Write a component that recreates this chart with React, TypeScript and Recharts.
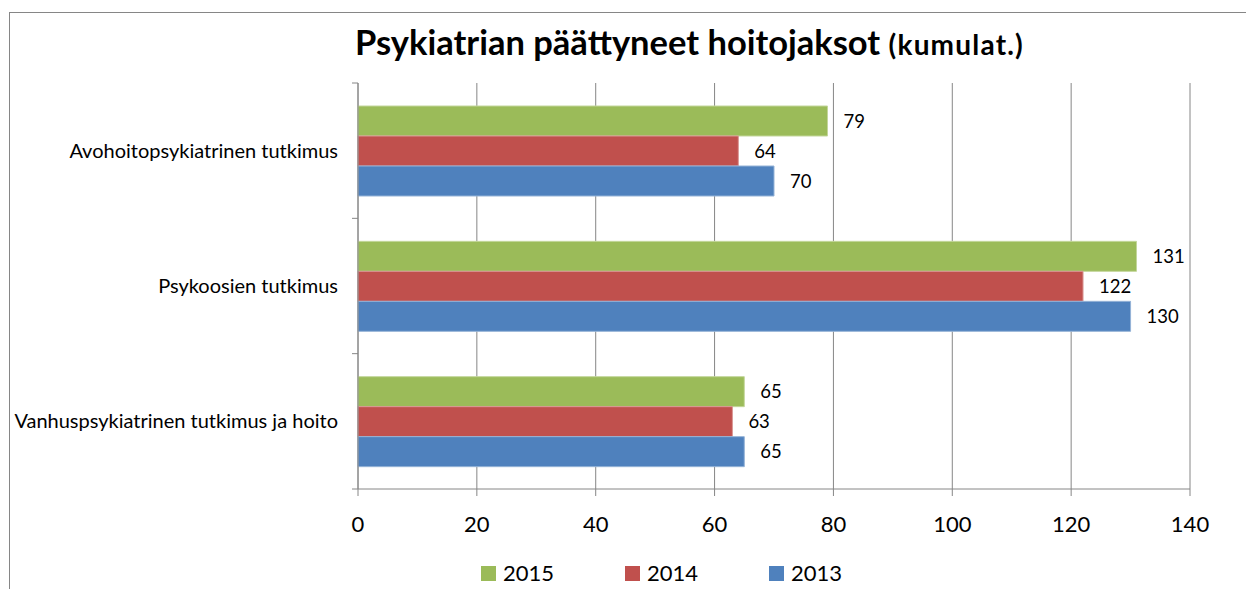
import {
  Bar,
  BarChart,
  CartesianGrid,
  LabelList,
  XAxis,
  YAxis,
} from "recharts";

const categories = [
  "Avohoitopsykiatrinen tutkimus",
  "Psykoosien tutkimus",
  "Vanhuspsykiatrinen tutkimus ja hoito",
];

const values2015 = [79, 131, 65];
const values2014 = [64, 122, 63];
const values2013 = [70, 130, 65];

const xTicks = [0, 20, 40, 60, 80, 100, 120, 140];

const SERIES = [
  { key: "2015", fill: "#9BBB59", stroke: "#c3d69b" },
  { key: "2014", fill: "#C0504D", stroke: "#d99694" },
  { key: "2013", fill: "#4F81BD", stroke: "#95b3d7" },
];

const data = categories.map((name, i) => ({
  name,
  "2015": values2015[i],
  "2014": values2014[i],
  "2013": values2013[i],
}));

const W = 1246;
const H = 589;
const MARGIN = { top: 83, right: 56, bottom: 40, left: 0 };
const Y_WIDTH = 358;
const X_HEIGHT = 60;
const PLOT_H = H - MARGIN.top - MARGIN.bottom - X_HEIGHT;
const BAND = PLOT_H / categories.length;
const GRAY = "#868686";
const FONT = "Lato, 'Liberation Sans', sans-serif";

const CategoryTick = (props: any) => {
  const { x, y, payload, index } = props;
  const axisX = x + 20;
  return (
    <g>
      <line x1={axisX - 6} x2={axisX} y1={y - BAND / 2} y2={y - BAND / 2} stroke={GRAY} />
      {index === categories.length - 1 && (
        <line x1={axisX - 6} x2={axisX} y1={y + BAND / 2} y2={y + BAND / 2} stroke={GRAY} />
      )}
      <text x={x} y={y} dy="0.355em" textAnchor="end" fontSize={20} fill="#000" fontFamily={FONT}>
        {payload.value}
      </text>
    </g>
  );
};

export default function App() {
  return (
    <div
      style={{
        position: "absolute",
        left: 0,
        top: 0,
        width: W,
        height: H,
        overflow: "hidden",
        background: "#fff",
        fontFamily: FONT,
      }}
    >
      <div
        style={{
          position: "absolute",
          left: 9,
          top: 12,
          width: 1300,
          height: 700,
          border: `1.5px solid ${GRAY}`,
        }}
      />
      <div
        style={{
          position: "absolute",
          left: 355,
          top: 21,
          fontWeight: 700,
          fontSize: 34.5,
          lineHeight: 1.2,
          whiteSpace: "nowrap",
          color: "#000",
        }}
      >
        Psykiatrian päättyneet hoitojaksot{" "}
        <span style={{ fontSize: 28, letterSpacing: 1.2 }}>(kumulat.)</span>
      </div>
      <div style={{ position: "absolute", left: 0, top: 0 }}>
        <BarChart
          width={W}
          height={H}
          data={data}
          layout="vertical"
          margin={MARGIN}
          barSize={30}
          barGap={0}
        >
          <CartesianGrid horizontal={false} stroke={GRAY} strokeWidth={1} />
          <XAxis
            type="number"
            domain={[0, 140]}
            ticks={xTicks}
            height={X_HEIGHT}
            tickSize={7}
            tickMargin={20}
            tick={{ fontSize: 22, fill: "#000", fontFamily: FONT }}
            axisLine={{ stroke: GRAY }}
            tickLine={{ stroke: GRAY }}
          />
          <YAxis
            type="category"
            dataKey="name"
            width={Y_WIDTH}
            tickSize={6}
            tickMargin={14}
            tickLine={false}
            axisLine={{ stroke: GRAY }}
            tick={<CategoryTick />}
            interval={0}
          />
          {SERIES.map((s) => (
            <Bar
              key={s.key}
              dataKey={s.key}
              fill={s.fill}
              stroke={s.stroke}
              strokeWidth={1}
              isAnimationActive={false}
            >
              <LabelList
                dataKey={s.key}
                position="right"
                offset={16}
                fontSize={18.5}
                fill="#000"
                fontFamily={FONT}
              />
            </Bar>
          ))}
        </BarChart>
      </div>
      <div
        style={{
          position: "absolute",
          top: 560,
          left: 481,
          display: "flex",
          alignItems: "center",
          fontSize: 22,
          lineHeight: "26px",
          color: "#000",
        }}
      >
        {SERIES.map((s, i) => (
          <div
            key={s.key}
            style={{
              display: "flex",
              alignItems: "center",
              marginRight: i < SERIES.length - 1 ? 71 : 0,
            }}
          >
            <span
              style={{
                display: "inline-block",
                width: 15,
                height: 15,
                background: s.fill,
                marginRight: 7,
              }}
            />
            <span>{s.key}</span>
          </div>
        ))}
      </div>
    </div>
  );
}
